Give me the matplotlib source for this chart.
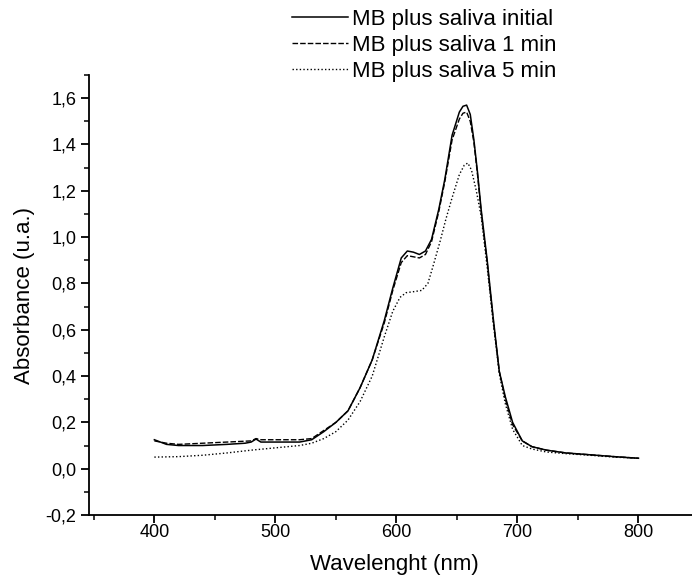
import matplotlib
matplotlib.use("Agg")
import matplotlib.pyplot as plt
from matplotlib.ticker import FuncFormatter, MultipleLocator

plt.rcParams['font.family'] = ['Liberation Sans', 'DejaVu Sans']

# MB plus saliva initial
wl_initial = [400, 410, 420, 440, 460, 475, 480, 484, 488, 500, 520, 530, 540, 550,
              560, 570, 580, 590, 597, 604, 609, 614, 619, 624, 629, 635, 640, 646,
              652, 655, 658, 661, 664, 667, 670, 675, 680, 685, 690, 696, 704, 712,
              724, 740, 760, 780, 800]
abs_initial = [0.125, 0.105, 0.10, 0.10, 0.105, 0.11, 0.115, 0.128, 0.115, 0.115, 0.115,
               0.125, 0.16, 0.20, 0.25, 0.35, 0.47, 0.64, 0.78, 0.91, 0.94, 0.935,
               0.925, 0.94, 0.99, 1.12, 1.25, 1.44, 1.54, 1.565, 1.57, 1.53, 1.42,
               1.28, 1.12, 0.90, 0.65, 0.42, 0.31, 0.20, 0.12, 0.095, 0.08, 0.068,
               0.06, 0.052, 0.045]

# MB plus saliva 1 min
wl_1min = [400, 410, 420, 440, 460, 480, 484, 488, 500, 520, 530, 540, 550, 560, 570,
           580, 590, 597, 604, 609, 614, 619, 624, 629, 635, 640, 646, 652, 655, 658,
           661, 664, 667, 670, 675, 680, 685, 690, 696, 704, 712, 724, 740, 760, 780,
           800]
abs_1min = [0.12, 0.11, 0.105, 0.11, 0.115, 0.12, 0.13, 0.125, 0.125, 0.125, 0.13,
            0.165, 0.20, 0.25, 0.35, 0.47, 0.63, 0.77, 0.89, 0.92, 0.915, 0.91, 0.925,
            0.98, 1.11, 1.24, 1.42, 1.51, 1.535, 1.54, 1.50, 1.41, 1.27, 1.11, 0.89,
            0.64, 0.42, 0.30, 0.19, 0.12, 0.095, 0.08, 0.068, 0.06, 0.052, 0.045]

# MB plus saliva 5 min
wl_5min = [400, 420, 440, 460, 480, 500, 520, 530, 540, 550, 560, 570, 580, 590, 597,
           603, 608, 615, 621, 626, 630, 636, 641, 646, 652, 656, 659, 662, 666, 670,
           675, 680, 685, 690, 696, 704, 712, 724, 740, 760, 780, 800]
abs_5min = [0.05, 0.052, 0.058, 0.068, 0.08, 0.09, 0.10, 0.11, 0.13, 0.16, 0.21, 0.29,
            0.40, 0.57, 0.68, 0.74, 0.76, 0.765, 0.77, 0.80, 0.87, 0.98, 1.08, 1.17,
            1.27, 1.31, 1.32, 1.29, 1.20, 1.09, 0.87, 0.63, 0.41, 0.28, 0.17, 0.10,
            0.085, 0.072, 0.065, 0.058, 0.05, 0.045]

fig = plt.figure(figsize=(6.92, 5.78), dpi=100)
ax = fig.add_axes([89 / 692, 1 - 515 / 578, 610 / 692, 440 / 578])

l1, = ax.plot(wl_initial, abs_initial, color='black', linestyle='-', linewidth=1.1)
l2, = ax.plot(wl_1min, abs_1min, color='black', linestyle=(0, (4, 1.5)), linewidth=1.0)
l3, = ax.plot(wl_5min, abs_5min, color='black', linestyle=(0, (1, 1.6)), linewidth=1.0)

ax.set_xlim(346, 850)
ax.set_ylim(-0.2, 1.7)
ax.xaxis.set_major_locator(MultipleLocator(100))
ax.xaxis.set_minor_locator(MultipleLocator(50))
ax.yaxis.set_major_locator(MultipleLocator(0.2))
ax.yaxis.set_minor_locator(MultipleLocator(0.1))
ax.yaxis.set_major_formatter(FuncFormatter(lambda v, p: f"{v:.1f}".replace('.', ',').replace('-0,0', '0,0')))
ax.xaxis.set_major_formatter(FuncFormatter(lambda v, p: f"{v:.0f}"))

for side in ['top', 'right']:
    ax.spines[side].set_visible(False)
for side in ['left', 'bottom']:
    ax.spines[side].set_linewidth(1.3)

ax.tick_params(which='major', direction='out', length=6, width=1.3, labelsize=13, pad=3)
ax.tick_params(which='minor', direction='out', length=3.5, width=1.1)
ax.tick_params(axis='x', which='major', pad=0.5)

ax.set_xlabel('Wavelenght (nm)', fontsize=16, labelpad=9)
ax.set_ylabel('Absorbance (u.a.)', fontsize=16, labelpad=8)

fig.legend([l1, l2, l3],
           ['MB plus saliva initial', 'MB plus saliva 1 min', 'MB plus saliva 5 min'],
           loc='upper left', bbox_to_anchor=(292 / 692, 1 - 9 / 578),
           frameon=False, fontsize=16, handlelength=2.5, handletextpad=0.18,
           labelspacing=0.22, borderpad=0, borderaxespad=0)

fig.savefig('out.png', dpi=100)
